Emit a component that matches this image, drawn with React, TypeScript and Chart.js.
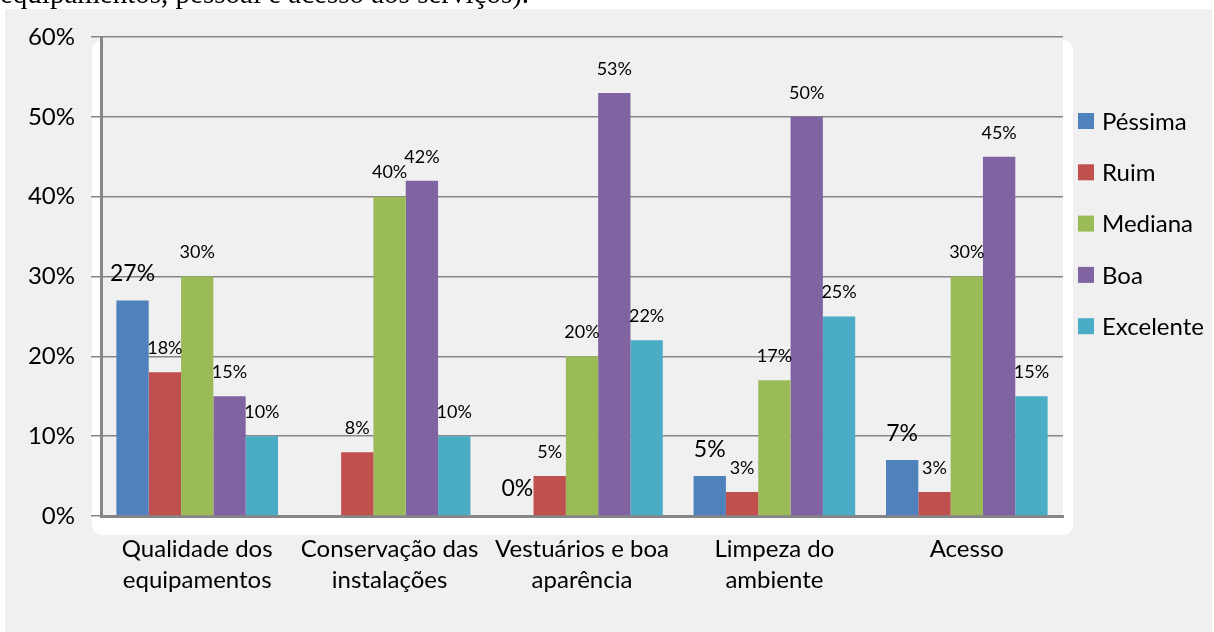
import React, { useEffect, useRef } from "react";
import { Chart, registerables } from "chart.js";

Chart.register(...registerables);

const categories: string[][] = [
  ["Qualidade dos", "equipamentos"],
  ["Conservação das", "instalações"],
  ["Vestuários e boa", "aparência"],
  ["Limpeza do", "ambiente"],
  ["Acesso"],
];
const seriesNames = ["Péssima", "Ruim", "Mediana", "Boa", "Excelente"];
const pessima: (number | null)[] = [27, null, 0, 5, 7];
const ruim: (number | null)[] = [18, 8, 5, 3, 3];
const mediana: (number | null)[] = [30, 40, 20, 17, 30];
const boa: (number | null)[] = [15, 42, 53, 50, 45];
const excelente: (number | null)[] = [10, 10, 22, 25, 15];
const yTickLabels = ["0%", "10%", "20%", "30%", "40%", "50%", "60%"];
const colors = ["#4F81BD", "#C0504D", "#9BBB59", "#8064A2", "#4BACC6"];

const FONT = "Lato, 'Liberation Sans', sans-serif";
const BG = "#f0f0f0";

const backgroundPlugin = {
  id: "bgPlugin",
  beforeDraw(chart: any) {
    const ctx = chart.ctx;
    const { left, right, top, bottom } = chart.chartArea;
    ctx.save();
    ctx.fillStyle = BG;
    ctx.fillRect(5, 9, chart.width - 7, chart.height - 9);
    ctx.fillStyle = "#ffffff";
    ctx.beginPath();
    (ctx as any).roundRect(left - 9, top + 3, right - left + 19, bottom - top + 16, 10);
    ctx.fill();
    ctx.fillStyle = BG;
    ctx.fillRect(left, top, right - left, bottom - top);
    ctx.restore();
  },
};

const labelPlugin = {
  id: "valueLabels",
  afterDatasetsDraw(chart: any) {
    const ctx = chart.ctx;
    ctx.save();
    ctx.fillStyle = "#000";
    ctx.textAlign = "center";
    ctx.textBaseline = "middle";
    chart.data.datasets.forEach((ds: any, i: number) => {
      const meta = chart.getDatasetMeta(i);
      const big = i === 0;
      ctx.font = `${big ? 23 : 18}px ${FONT}`;
      const off = big ? 27 : 24;
      meta.data.forEach((el: any, j: number) => {
        const v = ds.data[j];
        if (v === null || v === undefined) return;
        ctx.fillText(`${v}%`, el.x, el.y - off);
      });
    });
    ctx.restore();
  },
};

const legendPlugin = {
  id: "customLegend",
  afterDraw(chart: any) {
    const ctx = chart.ctx;
    ctx.save();
    ctx.font = `24px ${FONT}`;
    ctx.textBaseline = "middle";
    ctx.textAlign = "left";
    chart.data.datasets.forEach((ds: any, i: number) => {
      const y = 121 + i * 51.3;
      ctx.fillStyle = ds.backgroundColor;
      ctx.fillRect(1078, y - 8, 16, 16);
      ctx.fillStyle = "#000";
      ctx.fillText(ds.label, 1102, y + 1);
    });
    ctx.restore();
  },
};

export default function App() {
  const ref = useRef<HTMLCanvasElement | null>(null);

  useEffect(() => {
    if (!ref.current) return;
    const series = [pessima, ruim, mediana, boa, excelente];
    const chart = new Chart(ref.current, {
      type: "bar",
      data: {
        labels: categories,
        datasets: series.map((d, i) => ({
          label: seriesNames[i],
          data: d,
          backgroundColor: colors[i],
          borderWidth: 0,
          barPercentage: 1,
          categoryPercentage: 0.84,
        })),
      },
      options: {
        responsive: false,
        animation: false,
        layout: { padding: { top: 37, right: 151, left: 0, bottom: 0 } },
        plugins: {
          legend: { display: false },
          tooltip: { enabled: false },
        },
        scales: {
          x: {
            grid: { display: false, drawTicks: false },
            border: { display: true, color: "#868686", width: 3 },
            ticks: {
              color: "#000",
              font: { family: FONT, size: 24, lineHeight: "31px" } as any,
              padding: 18,
              maxRotation: 0,
              autoSkip: false,
            },
            afterFit: (s: any) => {
              s.height = 116;
            },
          },
          y: {
            min: 0,
            max: 60,
            ticks: {
              stepSize: 10,
              color: "#000",
              font: { family: FONT, size: 24 },
              padding: 16,
              callback: (v: any) => yTickLabels[Math.round(Number(v) / 10)] ?? "",
            },
            grid: { color: "#868686", lineWidth: 1.5, tickLength: 10, drawTicks: true },
            border: { display: true, color: "#868686", width: 3 },
            afterFit: (s: any) => {
              s.width = 101;
            },
          },
        },
      },
      plugins: [backgroundPlugin, labelPlugin, legendPlugin],
    });
    return () => chart.destroy();
  }, []);

  return (
    <div style={{ position: "absolute", left: 0, top: 0, width: 1214, height: 632, overflow: "hidden" }}>
      <canvas ref={ref} width={1214} height={632} style={{ position: "absolute", left: 0, top: 0 }} />
      <div
        style={{
          position: "absolute",
          left: 0,
          top: -21,
          fontFamily: "'Liberation Serif', 'Times New Roman', serif",
          fontSize: 29,
          lineHeight: "29px",
          whiteSpace: "nowrap",
          color: "#000",
        }}
      >
        equipamentos, pessoal e acesso aos serviços).
      </div>
    </div>
  );
}
